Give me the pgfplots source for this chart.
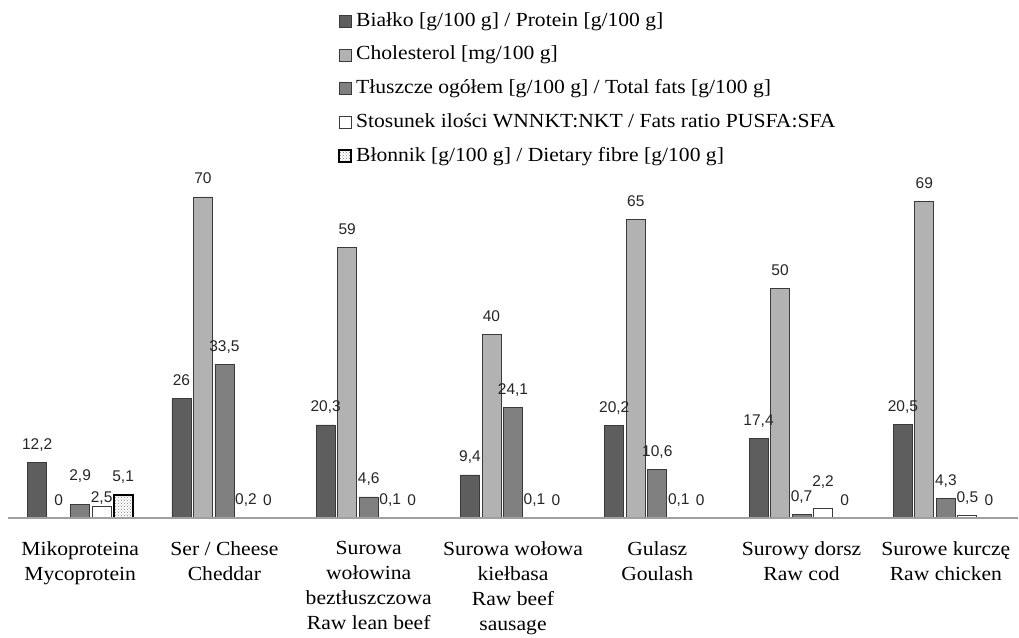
\documentclass[border=0pt]{standalone}
\usepackage{pgfplots}
\pgfplotsset{compat=1.18}
\usepackage{pgfplotstable}
\usepackage{fontspec}
\setmainfont[FakeStretch=1.08]{Liberation Serif}
\newfontfamily\labfont{Liberation Sans}
\usetikzlibrary{patterns}
\definecolor{cprot}{HTML}{5E5E5E}
\definecolor{cchol}{HTML}{B2B2B2}
\definecolor{cfat}{HTML}{808080}
\definecolor{cedge}{HTML}{3A3A3A}
\definecolor{caxis}{HTML}{A0A0A0}

\pgfplotstableread{
x prot chol fat ratio fibre df dr
0 12.2 0 2.9 2.5 5.1 11 -8.5
1 26 70 33.5 0.2 0 0 0
2 20.3 59 4.6 0.1 0 0 0
3 9.4 40 24.1 0.1 0 0 0
4 20.2 65 10.6 0.1 0 0 0
5 17.4 50 0.7 2.2 0 0 8
6 20.5 69 4.3 0.5 0 0 0
}\datatable

\begin{document}
\begin{tikzpicture}
\begin{axis}[
 scale only axis, width=1010pt, height=344pt,
 xmin=-0.5, xmax=6.5, ymin=0, ymax=75,
 ybar=2.5pt, bar width=19pt,
 axis x line*=bottom, axis y line=none,
 axis line style={draw=caxis, line width=1.2pt},
 axis on top, clip=false,
 xtick={0,...,6},
 xticklabels={{Mikoproteina\\Mycoprotein},{Ser / Cheese\\Cheddar},{Surowa\\wołowina\\beztłuszczowa\\Raw lean beef},{Surowa wołowa\\kiełbasa\\Raw beef\\sausage},{Gulasz\\Goulash},{Surowy dorsz\\Raw cod},{Surowe kurczę\\Raw chicken}},
 major tick length=0pt,
 xticklabel style={align=center, anchor=north, yshift=-20pt, font=\fontsize{20}{25}\selectfont},
 /pgf/number format/use comma,
 /pgf/number format/assume math mode=true,
 nodes near coords,
 nodes near coords style={font=\labfont\fontsize{15.5}{16}\selectfont, anchor=base, yshift=13pt, text=black!85},
 legend image code/.code={\draw[#1] (0pt,-6pt) rectangle (12pt,6pt);},
 legend cell align=left,
 legend style={draw=none, fill=none, at={(rel axis cs:0.3267,1.4738)}, anchor=north west, inner sep=0pt, row sep=13.7pt, font=\fontsize{20}{24}\selectfont, nodes={inner sep=0pt, text height=15pt, text depth=5pt}, /tikz/every odd column/.append style={column sep=4pt}},
]
\addplot[fill=cprot, draw=cedge, line width=0.8pt] table[x=x, y=prot]{\datatable};
\addlegendentry{Białko [g/100 g] / Protein [g/100 g]}
\addplot[fill=cchol, draw=cedge, line width=0.8pt] table[x=x, y=chol]{\datatable};
\addlegendentry{Cholesterol [mg/100 g]}
\addplot[fill=cfat, draw=cedge, line width=0.8pt,
  visualization depends on={\thisrow{df}\as\dyf},
  every node near coord/.append style={yshift=\dyf pt}] table[x=x, y=fat]{\datatable};
\addlegendentry{Tłuszcze ogółem [g/100 g] / Total fats [g/100 g]}
\addplot[fill=white, draw=cedge, line width=0.8pt,
  visualization depends on={\thisrow{dr}\as\dyr},
  every node near coord/.append style={yshift=\dyr pt}] table[x=x, y=ratio]{\datatable};
\addlegendentry{Stosunek ilości WNNKT:NKT / Fats ratio PUSFA:SFA}
\addplot[fill=white, draw=black, line width=2pt, postaction={pattern=crosshatch dots, pattern color=gray}] table[x=x, y=fibre]{\datatable};
\addlegendentry{Błonnik [g/100 g] / Dietary fibre [g/100 g]}
\end{axis}
\pgfresetboundingbox
\path ([xshift=-8pt,yshift=-119pt]current axis.south west) rectangle ([xshift=1pt,yshift=174pt]current axis.north east);
\end{tikzpicture}
\end{document}
